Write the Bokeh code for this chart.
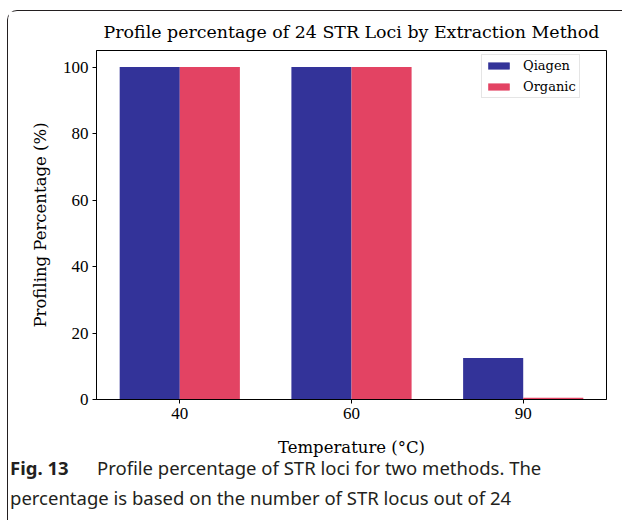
from bokeh.plotting import figure
from bokeh.layouts import column
from bokeh.models import ColumnDataSource, FactorRange, Range1d, FixedTicker, Div
from bokeh.transform import dodge
from bokeh.embed import file_html
from bokeh.resources import INLINE

# ---- data ----
temps = ["40", "60", "90"]
qiagen = [100, 100, 12.5]
organic = [100, 100, 0.5]
y_ticks = [0, 20, 40, 60, 80, 100]

title_text = "Profile percentage of 24 STR Loci by Extraction Method"
x_label = "Temperature (\u00b0C)"
y_label = "Profiling Percentage (%)"
caption_bold = "Fig. 13"
caption_line1 = "Profile percentage of STR loci for two methods. The"
caption_line2 = "percentage is based on the number of STR locus out of 24"

src = ColumnDataSource(dict(temp=temps, qiagen=qiagen, organic=organic))

SERIF = "DejaVu Serif"
TICKFONT = "Liberation Serif"
W = 614

p = figure(
    x_range=FactorRange(*temps, range_padding=-0.015, range_padding_units="absolute"),
    y_range=Range1d(0, 105),
    width=W, height=452,
    output_backend="svg", toolbar_location=None,
    min_border_left=88, min_border_right=16, min_border_top=39, min_border_bottom=64,
    title=title_text,
)

p.vbar(x=dodge("temp", -0.175, range=p.x_range), top="qiagen", width=0.35, source=src,
       fill_color="#333399", line_color=None, legend_label="Qiagen")
p.vbar(x=dodge("temp", 0.175, range=p.x_range), top="organic", width=0.35, source=src,
       fill_color="#e34363", line_color=None, legend_label="Organic")

# title
p.title.text_font = SERIF
p.title.text_font_size = "17.4px"
p.title.text_font_style = "normal"
p.title.text_color = "black"
p.title.align = "center"
p.title.standoff = 17

# grid / outline
p.xgrid.grid_line_color = None
p.ygrid.grid_line_color = None
p.outline_line_color = "black"
p.outline_line_width = 1
p.background_fill_color = "white"
p.border_fill_color = "white"

for ax in (p.xaxis[0], p.yaxis[0]):
    ax.axis_line_color = "black"
    ax.major_tick_line_color = "black"
    ax.minor_tick_line_color = None
    ax.major_tick_in = 0
    ax.major_tick_out = 4
    ax.major_label_text_font = TICKFONT
    ax.major_label_text_font_size = "17px"
    ax.major_label_text_color = "black"
    ax.axis_label_text_font = SERIF
    ax.axis_label_text_font_size = "16.5px"
    ax.axis_label_text_font_style = "normal"
    ax.axis_label_text_color = "black"
    ax.major_label_standoff = 4

p.xaxis.axis_label = x_label
p.yaxis.axis_label = y_label
p.xaxis.axis_label_standoff = 16
p.yaxis.axis_label_standoff = 10
p.yaxis.ticker = FixedTicker(ticks=y_ticks)

# legend
lg = p.legend[0]
lg.location = (385, 301)
lg.padding = 3
lg.spacing = 6
lg.margin = 0
lg.label_height = 14
lg.glyph_height = 9
lg.glyph_width = 27
lg.label_standoff = 11
lg.label_text_font = SERIF
lg.label_text_font_size = "13px"
lg.label_text_color = "black"
lg.border_line_color = "#cccccc"
lg.border_line_width = 1
lg.background_fill_color = "white"
lg.background_fill_alpha = 1.0

# caption (HTML text strip below the chart)
cap_html = (
    '<div style="position:relative; top:-10px; padding-left:2px; white-space:nowrap; '
    'font-family:\'Noto Sans\'; font-size:18.5px; line-height:30px; color:#231f20;">'
    f'<span style="display:inline-block; width:87px; font-weight:bold;">{caption_bold}</span>'
    f'{caption_line1}<br>{caption_line2}</div>'
)
cap = Div(text=cap_html, width=W, height=57, margin=0)

layout = column(p, cap, spacing=0, margin=(10, 0, 0, 7))
# outer rounded frame (top and left edges only visible in the reference)
layout.styles = {
    "border-top": "1px solid #231f20",
    "border-left": "1px solid #231f20",
    "border-top-left-radius": "10px",
}

open("out.html", "w").write(file_html(layout, INLINE))
